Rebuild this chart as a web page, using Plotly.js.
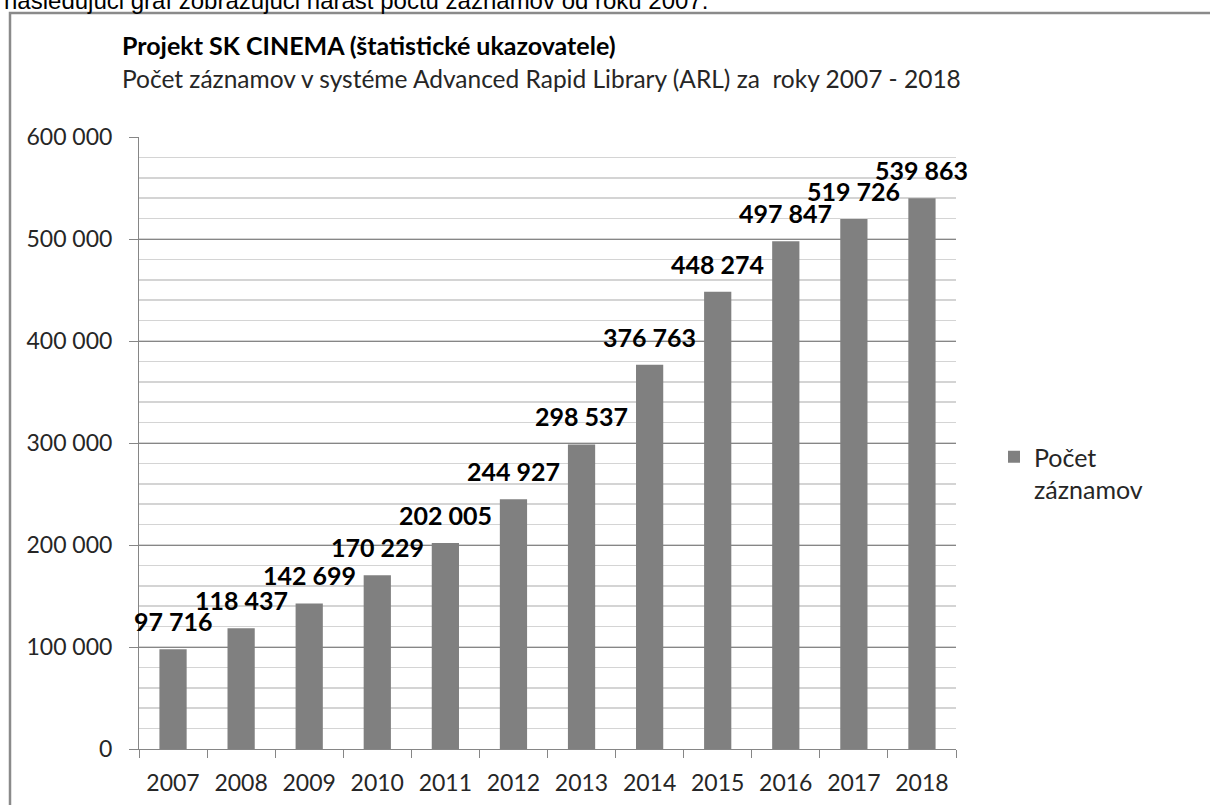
<!DOCTYPE html>
<html>
<head>
<meta charset="utf-8">
<script src="https://cdn.plot.ly/plotly-3.0.1.min.js"></script>
<style>
  html, body { margin: 0; padding: 0; background: #ffffff; }
  #chart { width: 1210px; height: 805px; }
</style>
</head>
<body>
<div id="chart"></div>
<script>
// ---- data ----
const years = ['2007','2008','2009','2010','2011','2012','2013','2014','2015','2016','2017','2018'];
const records = [97716, 118437, 142699, 170229, 202005, 244927, 298537, 376763, 448274, 497847, 519726, 539863];
const seriesName = 'Počet<br>záznamov';
const yTickVals = [0, 100000, 200000, 300000, 400000, 500000, 600000];
const yTickText = ['0', '100 000', '200 000', '300 000', '400 000', '500 000', '600 000'];
const titleText = 'Projekt SK CINEMA (štatistické ukazovatele)';
const subtitleText = 'Počet záznamov v systéme Advanced Rapid Library (ARL) za&nbsp; roky 2007 - 2018';
const topText = 'nasledujúci graf zobrazujúci nárast počtu záznamov od roku 2007.';

// ---- layout constants ----
const W = 1210, H = 805;
const L = 139, R = 254, T = 137, B = 56;
const pw = W - L - R, ph = H - T - B;
const px = x => (x - L) / pw;          // pixel x -> paper x
const py = y => (H - B - y) / ph;      // pixel y -> paper y

const FONT = 'Lato, "Open Sans", sans-serif';
const fmt = v => String(v).replace(/\B(?=(\d{3})+(?!\d))/g, ' ');

const trace = {
  type: 'bar',
  x: years,
  y: records,
  name: seriesName,
  marker: { color: '#808080', line: { width: 0 } },
  hoverinfo: 'x+y'
};

// category axes take the serial index of the category for annotations
const labelAnnotations = years.map((yr, i) => ({
  x: i, y: records[i], xref: 'x', yref: 'y',
  text: fmt(records[i]),
  showarrow: false,
  yanchor: 'middle', xanchor: 'center',
  yshift: 28,
  font: { family: FONT, size: 25, color: '#000000', weight: 'bold' }
}));

const layout = {
  width: W, height: H,
  margin: { l: L, r: R, t: T, b: B, pad: 0 },
  paper_bgcolor: '#ffffff',
  plot_bgcolor: '#ffffff',
  font: { family: FONT, color: '#262626' },
  bargap: 0.6,
  showlegend: true,
  legend: {
    x: px(994), y: py(434), xanchor: 'left', yanchor: 'top',
    valign: 'top',
    font: { family: FONT, size: 25, color: '#262626' },
    bgcolor: 'rgba(0,0,0,0)', borderwidth: 0
  },
  xaxis: {
    type: 'category',
    range: [-0.5, years.length - 0.5],
    showgrid: false,
    showline: true, linecolor: '#868686', linewidth: 1,
    ticks: 'outside', ticklen: 8, tickcolor: '#868686', tickwidth: 1,
    tickson: 'boundaries',
    tickfont: { family: FONT, size: 23, color: '#262626' },
    ticklabelstandoff: 13,
    zeroline: false,
    fixedrange: true
  },
  yaxis: {
    range: [0, 600000],
    tickvals: yTickVals, ticktext: yTickText,
    showgrid: true, gridcolor: '#868686', gridwidth: 1,
    showline: true, linecolor: '#868686', linewidth: 1,
    ticks: 'outside', ticklen: 9, tickcolor: '#868686', tickwidth: 1,
    tickfont: { family: FONT, size: 23, color: '#262626' },
    ticklabelstandoff: 12,
    zeroline: false,
    minor: { dtick: 20000, showgrid: true, gridcolor: '#d4d4d4', gridwidth: 1.5, ticks: '' },
    fixedrange: true
  },
  shapes: [
    { type: 'rect', xref: 'paper', yref: 'paper',
      x0: px(10), x1: px(1230), y0: py(830), y1: py(13),
      line: { color: '#8a8a8a', width: 2.5 }, fillcolor: 'rgba(0,0,0,0)', layer: 'below' }
  ],
  annotations: [
    { xref: 'paper', yref: 'paper', x: px(2), y: py(16), xanchor: 'left', yanchor: 'bottom',
      text: topText, showarrow: false,
      font: { family: '"Liberation Sans", Arial, sans-serif', size: 24, color: '#000000' } },
    { xref: 'paper', yref: 'paper', x: px(120), y: py(45), xanchor: 'left', yanchor: 'middle',
      text: titleText, showarrow: false,
      font: { family: FONT, size: 25, color: '#000000', weight: 'bold' } },
    { xref: 'paper', yref: 'paper', x: px(120), y: py(79), xanchor: 'left', yanchor: 'middle',
      text: subtitleText, showarrow: false,
      font: { family: FONT, size: 24.5, color: '#262626' } }
  ].concat(labelAnnotations)
};

Plotly.newPlot('chart', [trace], layout, { displayModeBar: false, staticPlot: true });
</script>
</body>
</html>
